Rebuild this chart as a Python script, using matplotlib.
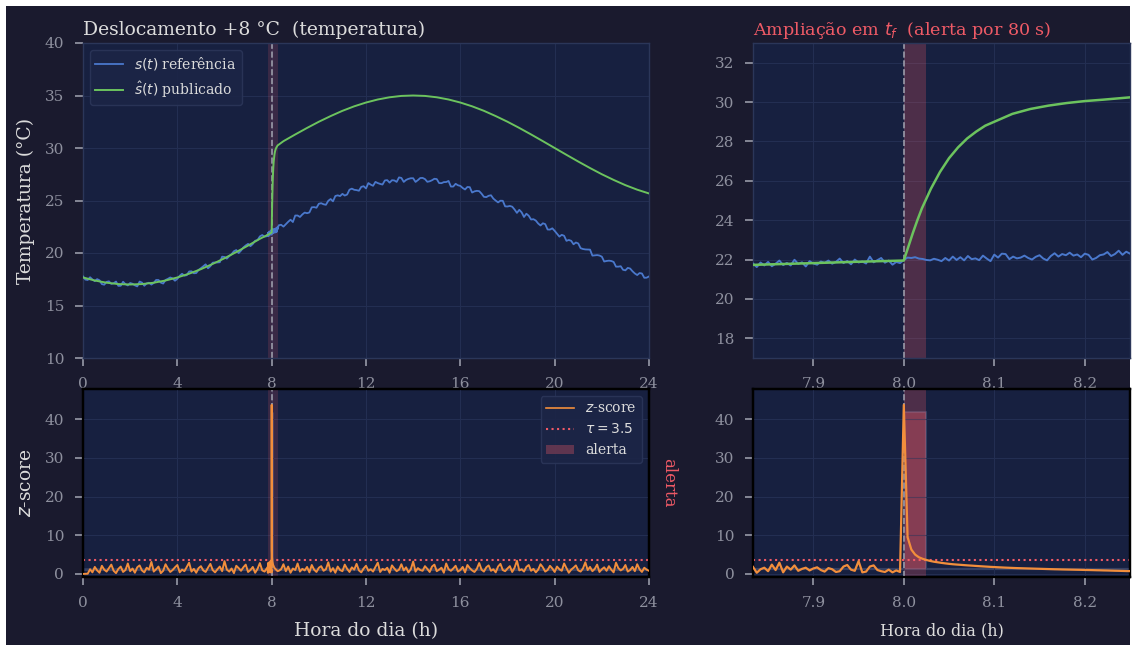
import numpy as np
import matplotlib
matplotlib.use("Agg")
import matplotlib.pyplot as plt
from matplotlib.patches import Rectangle, Patch
from matplotlib.lines import Line2D
from matplotlib.ticker import FormatStrFormatter

# ---------------- dados ----------------
t_f = 8.0                      # instante da falha (h)
zoom_ini = 7.0 + 50.0 / 60.0   # janela de ampliação (h)
zoom_fim = 8.25
tau_limiar = 3.5

# visão geral: referência s(t), amostrada a cada 0.1 h
passo_ref = 0.1
ref_visao = [
    17.77, 17.47, 17.43, 17.69, 17.48, 17.32, 17.51, 17.40, 17.04, 16.98,
    17.25, 17.30, 17.06, 17.12, 17.28, 16.87, 16.88, 17.26, 17.03, 16.91,
    17.14, 17.07, 16.92, 16.82, 17.28, 17.18, 16.88, 17.10, 17.17, 16.99,
    17.15, 17.43, 17.43, 17.18, 17.09, 17.43, 17.54, 17.67, 17.58, 17.36,
    17.54, 17.83, 18.02, 17.84, 17.89, 18.24, 18.26, 18.07, 18.09, 18.39,
    18.55, 18.73, 18.92, 18.54, 18.74, 19.08, 19.10, 19.10, 19.12, 19.65,
    19.62, 19.46, 19.70, 19.89, 20.17, 20.28, 19.99, 20.23, 20.53, 20.72,
    20.87, 20.65, 20.86, 21.17, 21.23, 21.58, 21.71, 21.56, 21.60, 21.70,
    22.08, 22.24, 22.05, 22.64, 22.69, 22.51, 22.74, 22.97, 23.17, 22.95,
    23.57, 23.57, 23.43, 23.67, 23.85, 23.79, 23.86, 24.35, 24.37, 24.31,
    24.69, 24.74, 24.64, 24.59, 24.97, 25.14, 24.92, 25.43, 25.49, 25.42,
    25.63, 25.47, 25.57, 26.03, 26.13, 26.02, 25.99, 25.93, 26.30, 26.36,
    26.15, 26.66, 26.51, 26.40, 26.77, 26.66, 26.58, 26.52, 26.91, 26.94,
    26.70, 26.93, 26.91, 26.77, 27.20, 27.15, 26.77, 26.96, 27.06, 27.12,
    27.12, 26.77, 26.94, 27.14, 27.15, 27.04, 26.78, 26.83, 26.93, 27.07,
    27.04, 26.66, 26.65, 26.75, 26.76, 26.86, 26.33, 26.33, 26.59, 26.45,
    26.39, 26.19, 26.05, 26.29, 26.27, 25.76, 25.87, 25.92, 25.89, 25.65,
    25.35, 25.32, 25.45, 25.50, 25.18, 24.99, 24.82, 24.98, 24.97, 24.44,
    24.43, 24.48, 24.41, 24.14, 23.82, 24.11, 23.87, 23.43, 23.74, 23.55,
    23.19, 23.22, 23.09, 22.81, 22.62, 22.83, 22.75, 22.24, 22.23, 22.35,
    22.11, 21.83, 21.56, 21.73, 21.64, 21.16, 21.24, 21.16, 20.83, 21.00,
    20.91, 20.46, 20.38, 20.34, 20.33, 20.32, 19.75, 19.77, 19.80, 19.76,
    19.65, 19.19, 19.24, 19.27, 19.24, 19.15, 18.70, 18.70, 18.74, 18.40,
    18.35, 18.58, 18.52, 18.26, 18.05, 17.90, 18.09, 18.05, 17.64, 17.65,
    17.77,
]

# visão geral: valor publicado ŝ(t), a cada 0.5 h
passo_pub = 0.5
pub_visao = [
    17.67, 17.38, 17.17, 17.04, 17.00, 17.04, 17.17, 17.38, 17.67, 18.03,
    18.46, 18.96, 19.50, 20.09, 20.71, 21.35, 22.00, 30.65, 31.29, 31.91,
    32.50, 33.04, 33.54, 33.97, 34.33, 34.62, 34.83, 34.96, 35.00, 34.96,
    34.83, 34.62, 34.33, 33.97, 33.54, 33.04, 32.50, 31.91, 31.29, 30.65,
    30.00, 29.35, 28.71, 28.09, 27.50, 26.96, 26.46, 26.03, 25.67,
]

# visão geral: z-score, a cada 0.1 h
passo_z = 0.1
z_visao = [
    0.0, 0.02, 0.05, 1.2, 0.4, 1.8, 0.9, 0.3, 2.1, 1.1,
    0.6, 1.5, 2.4, 0.8, 0.2, 1.3, 1.9, 0.5, 1.0, 2.7,
    0.7, 1.4, 0.3, 1.7, 2.2, 0.9, 0.4, 1.6, 1.1, 3.1,
    0.6, 1.2, 1.9, 0.2, 0.8, 2.5, 1.4, 0.5, 1.0, 1.7,
    2.3, 0.4, 1.1, 0.7, 1.8, 2.9, 0.6, 1.3, 0.3, 1.5,
    2.0, 0.9, 0.5, 1.6, 2.6, 1.0, 0.4, 1.2, 1.9, 0.7,
    3.3, 1.1, 0.6, 1.4, 0.2, 2.1, 1.5, 0.8, 1.7, 2.4,
    0.5, 1.0, 1.8, 0.3, 1.3, 2.8, 0.9, 0.6, 1.5, 1.1,
    2.2, 0.4, 1.6, 0.8, 1.2, 2.5, 0.7, 1.9, 0.3, 1.4,
    1.0, 2.7, 0.6, 1.3, 0.9, 1.8, 0.4, 2.3, 1.1, 0.5,
    1.6, 2.0, 0.8, 1.2, 3.0, 0.6, 1.5, 0.3, 1.9, 1.0,
    0.7, 2.4, 1.3, 0.5, 1.7, 1.1, 2.6, 0.9, 0.4, 1.4,
    2.1, 0.8, 1.2, 0.6, 1.8, 2.9, 0.5, 1.3, 1.0, 1.6,
    0.3, 2.2, 1.4, 0.7, 1.1, 2.5, 0.9, 1.7, 0.4, 1.2,
    3.2, 0.6, 1.5, 1.0, 0.8, 2.0, 1.3, 0.5, 1.9, 2.4,
    0.7, 1.1, 1.6, 0.3, 2.7, 1.2, 0.8, 1.4, 2.1, 0.6,
    1.0, 1.8, 0.4, 2.3, 1.5, 0.9, 0.5, 1.3, 2.8, 1.1,
    0.6, 1.7, 2.2, 0.8, 1.2, 0.4, 1.9, 2.6, 1.0, 0.7,
    1.4, 2.0, 0.5, 1.6, 3.4, 0.9, 1.2, 0.6, 1.8, 2.3,
    0.8, 1.3, 0.4, 1.1, 2.5, 1.7, 0.6, 1.0, 2.1, 1.4,
    0.5, 1.9, 1.2, 0.8, 2.7, 1.5, 0.3, 1.1, 1.6, 2.2,
    0.9, 0.6, 1.4, 3.0, 1.0, 1.8, 0.7, 1.3, 2.4, 0.5,
    1.2, 1.7, 0.8, 2.0, 1.1, 0.4, 2.9, 1.5, 0.9, 1.3,
    2.3, 0.6, 1.0, 1.8, 0.7, 2.5, 1.2, 0.5, 1.6, 1.1,
    0.8,
]

# ampliação: amostras a cada 15 s a partir de zoom_ini
passo_zoom_s = 15
ref_zoom = [
    21.80, 21.62, 21.85, 21.70, 21.88, 21.66, 21.79, 21.95, 21.72, 21.83,
    21.70, 21.99, 21.78, 21.86, 21.65, 21.92, 21.80, 21.74, 21.90, 21.83,
    21.95, 21.79, 21.88, 22.05, 21.82, 21.93, 21.76, 22.00, 21.85, 21.90,
    21.80, 22.15, 21.86, 21.97, 22.08, 21.84, 21.95, 21.74, 21.88, 21.82,
    21.98, 22.10, 22.08, 22.12, 22.05, 22.03, 21.98, 21.96, 22.04, 21.99,
    21.92, 22.08, 21.95, 22.15, 21.98, 22.12, 21.96, 22.18, 22.02, 22.06,
    21.97, 22.20, 22.05, 21.92, 22.25, 22.10, 22.30, 22.28, 22.02, 22.15,
    22.06, 22.10, 22.20, 22.08, 22.00, 22.14, 22.22, 22.05, 21.96, 22.18,
    22.32, 22.15, 22.28, 22.22, 22.35, 22.20, 22.26, 22.12, 22.30, 22.24,
    22.00, 22.08, 22.22, 22.26, 22.38, 22.18, 22.28, 22.45, 22.24, 22.40,
    22.30,
]
z_zoom = [
    1.8, 0.3, 1.2, 1.6, 0.7, 2.4, 1.0, 2.9, 0.4, 1.9,
    1.1, 2.2, 0.8, 1.3, 1.6, 0.9, 1.4, 1.7, 1.0, 0.6,
    1.5, 1.2, 0.5, 0.7, 1.9, 2.3, 1.1, 0.8, 3.3, 0.4,
    0.6, 1.9, 2.2, 1.0, 0.7, 0.5, 1.1, 0.4, 0.9, 0.5,
    43.7, 9.5, 6.3, 5.0, 4.3, 3.9, 3.6, 3.35, 3.15, 3.0,
    2.85, 2.72, 2.6, 2.5, 2.42, 2.35, 2.27, 2.2, 2.14, 2.07,
    2.0, 1.94, 1.88, 1.82, 1.77, 1.72, 1.67, 1.62, 1.58, 1.54,
    1.5, 1.47, 1.44, 1.41, 1.38, 1.35, 1.32, 1.29, 1.26, 1.23,
    1.2, 1.18, 1.15, 1.13, 1.11, 1.09, 1.07, 1.05, 1.02, 1.0,
    0.98, 0.95, 0.93, 0.9, 0.88, 0.85, 0.82, 0.8, 0.77, 0.74,
    0.72,
]
alerta_zoom = [0] * 40 + [1] * 6 + [0] * 55

t_pub_zoom = [7.8333, 7.90, 7.95, 8.0, 8.005, 8.01, 8.015, 8.02, 8.025,
              8.03, 8.04, 8.05, 8.06, 8.07, 8.08, 8.09, 8.10, 8.12, 8.14,
              8.16, 8.18, 8.20, 8.22, 8.25]
pub_zoom = [21.73, 21.82, 21.89, 21.95, 22.65, 23.35, 24.00, 24.60, 25.10,
            25.60, 26.45, 27.15, 27.70, 28.15, 28.50, 28.80, 29.00, 29.40,
            29.65, 29.82, 29.95, 30.05, 30.12, 30.24]

# ---------------- montagem das séries ----------------
t_zoom = zoom_ini + np.arange(len(ref_zoom)) * passo_zoom_s / 3600.0


def juntar(t_c, v_c, t_zm, v_zm):
    t_c = np.asarray(t_c, float)
    v_c = np.asarray(v_c, float)
    antes = t_c < zoom_ini - 1e-6
    depois = t_c > zoom_fim + 1e-6
    return (np.concatenate([t_c[antes], np.asarray(t_zm, float), t_c[depois]]),
            np.concatenate([v_c[antes], np.asarray(v_zm, float), v_c[depois]]))


t_ref_v, ref_v = juntar(np.arange(len(ref_visao)) * passo_ref, ref_visao, t_zoom, ref_zoom)
t_pub_v, pub_v = juntar(np.arange(len(pub_visao)) * passo_pub, pub_visao, t_pub_zoom, pub_zoom)
t_z_grid = np.arange(len(z_visao)) * passo_z
t_z_v, z_v = juntar(t_z_grid, z_visao, t_zoom, z_zoom)
t_a_v, a_v = juntar(t_z_grid, np.zeros(len(z_visao)), t_zoom, alerta_zoom)

idx_alerta = np.nonzero(np.asarray(alerta_zoom))[0]
alerta_ini = t_zoom[idx_alerta[0]]
alerta_fim = t_zoom[idx_alerta[-1]] + passo_zoom_s / 3600.0

# ---------------- estilo ----------------
W, H = 1132, 645
BG_FIG = '#1a1a2e'
BG_AX = '#172040'
GRID = '#232e52'
SPINE = '#2b3659'
TXT = '#dcdcdc'
TICK = '#8e909e'
AZUL = '#4a78cc'
VERDE = '#6cc35e'
LARANJA = '#f28e3c'
VERM = '#ef5a66'
TRACO = '#9a9aa8'

plt.rcParams['font.family'] = ['DejaVu Serif']
plt.rcParams['mathtext.fontset'] = 'dejavusans'

fig = plt.figure(figsize=(W / 100, H / 100), dpi=100, facecolor='white')
fig.patches.append(Rectangle((6 / W, 0), (1130 - 6) / W, (H - 6) / H,
                             transform=fig.transFigure, facecolor=BG_FIG,
                             edgecolor='none', zorder=-10))


def estilo(ax, spine_col=SPINE, spine_lw=1.0):
    ax.set_facecolor(BG_AX)
    for s in ax.spines.values():
        s.set_color(spine_col)
        s.set_linewidth(spine_lw)
    ax.tick_params(colors=TICK, labelsize=11, length=6, width=1.3,
                   direction='out', pad=7.5)
    ax.grid(True, color=GRID, lw=0.8)
    ax.set_axisbelow(True)


def px(x0, y0, x1, y1):
    return [x0 / W, 1 - y1 / H, (x1 - x0) / W, (y1 - y0) / H]


# ---- topo esquerdo ----
ax1 = fig.add_axes(px(83, 43, 649, 358))
estilo(ax1)
ax1.axvspan(zoom_ini, zoom_fim, color=VERM, alpha=0.16, lw=0, zorder=1)
ax1.axvline(t_f, color=TRACO, ls='--', lw=1.2, zorder=2)
ax1.plot(t_ref_v, ref_v, color=AZUL, lw=1.3, label=r'$s(t)$ referência', zorder=3)
ax1.plot(t_pub_v, pub_v, color=VERDE, lw=1.4, label=r'$\hat{s}(t)$ publicado', zorder=4)
ax1.set_xlim(0, 24)
ax1.set_ylim(10, 40)
ax1.set_xticks(range(0, 25, 4))
ax1.set_yticks(range(10, 41, 5))
ax1.set_ylabel('Temperatura (°C)', color=TXT, fontsize=13.5, labelpad=7)
ax1.set_title('Deslocamento +8 °C  (temperatura)', loc='left', color=TXT,
              fontsize=13.5, pad=6)
ax1.legend(loc='upper left', fontsize=10, facecolor='#1c2546', edgecolor=SPINE,
           labelcolor=TXT, framealpha=0.9)

# ---- topo direito ----
ax2 = fig.add_axes(px(753, 43, 1130, 358))
estilo(ax2)
ax2.axvspan(alerta_ini, alerta_fim, color=VERM, alpha=0.25, lw=0, zorder=1)
ax2.axvline(t_f, color=TRACO, ls='--', lw=1.2, zorder=2)
ax2.plot(t_zoom, ref_zoom, color=AZUL, lw=1.4, zorder=3)
ax2.plot(t_pub_zoom, pub_zoom, color=VERDE, lw=1.8, zorder=4)
ax2.set_xlim(zoom_ini, zoom_fim)
ax2.set_ylim(17, 33)
ax2.set_yticks(range(18, 33, 2))
ax2.set_xticks([7.9, 8.0, 8.1, 8.2])
ax2.xaxis.set_major_formatter(FormatStrFormatter('%.1f'))
ax2.set_title(r'Ampliação em $t_f$  (alerta por 80 s)', loc='left', color=VERM,
              fontsize=12.6, pad=6)


def painel_z(rect, t_a, a, xlim):
    ax = fig.add_axes(rect)
    axt = ax.twinx()
    ax.set_zorder(axt.get_zorder() + 1)
    ax.patch.set_visible(False)
    axt.patch.set_visible(True)
    axt.set_facecolor(BG_AX)
    estilo(ax, spine_col='black', spine_lw=1.6)
    for s in axt.spines.values():
        s.set_color('black')
        s.set_linewidth(1.6)
    axt.fill_between(t_a, 0, a, step='post', facecolor=VERM, alpha=0.35,
                     edgecolor='#6f7da6', lw=1.5)
    axt.set_ylim(-0.05, 1.15)
    axt.set_yticks([])
    axt.set_xlim(*xlim)
    ax.set_xlim(*xlim)
    ax.set_ylim(-0.8, 47.8)
    ax.set_yticks(range(0, 41, 10))
    return ax, axt


# ---- base esquerda ----
ax3, ax3t = painel_z(px(83, 389, 649, 577), t_a_v, a_v, (0, 24))
ax3.axvspan(zoom_ini, zoom_fim, color=VERM, alpha=0.16, lw=0, zorder=1)
ax3.axvline(t_f, color=TRACO, ls='--', lw=1.2, zorder=2)
ax3.axhline(tau_limiar, color=VERM, ls=':', lw=1.5, zorder=2)
ax3.plot(t_z_v, z_v, color=LARANJA, lw=1.4, zorder=3)
ax3.set_xticks(range(0, 25, 4))
ax3.set_ylabel('$z$-score', color=TXT, fontsize=13.5, labelpad=7)
ax3.set_xlabel('Hora do dia (h)', color=TXT, fontsize=13.5, labelpad=9)
ax3t.set_ylabel('alerta', color=VERM, rotation=270, fontsize=12, labelpad=20)
handles = [
    Line2D([], [], color=LARANJA, lw=1.2),
    Line2D([], [], color=VERM, ls=':', lw=1.5),
    Patch(facecolor=VERM, alpha=0.32, edgecolor='none'),
]
ax3.legend(handles, ['$z$-score', r'$\tau = 3.5$', 'alerta'], loc='upper right',
           fontsize=10, facecolor='#1c2546', edgecolor=SPINE, labelcolor=TXT,
           framealpha=0.9)

# ---- base direita ----
ax4, ax4t = painel_z(px(753, 389, 1130, 577), t_zoom, alerta_zoom,
                     (zoom_ini, zoom_fim))
ax4.axvspan(alerta_ini, alerta_fim, color=VERM, alpha=0.25, lw=0, zorder=1)
ax4.axvline(t_f, color=TRACO, ls='--', lw=1.2, zorder=2)
ax4.axhline(tau_limiar, color=VERM, ls=':', lw=1.5, zorder=2)
ax4.plot(t_zoom, z_zoom, color=LARANJA, lw=1.6, zorder=3)
ax4.set_xticks([7.9, 8.0, 8.1, 8.2])
ax4.xaxis.set_major_formatter(FormatStrFormatter('%.1f'))
ax4.set_xlabel('Hora do dia (h)', color=TXT, fontsize=11.5, labelpad=9)

fig.savefig('out.png', dpi=100, facecolor='white')
